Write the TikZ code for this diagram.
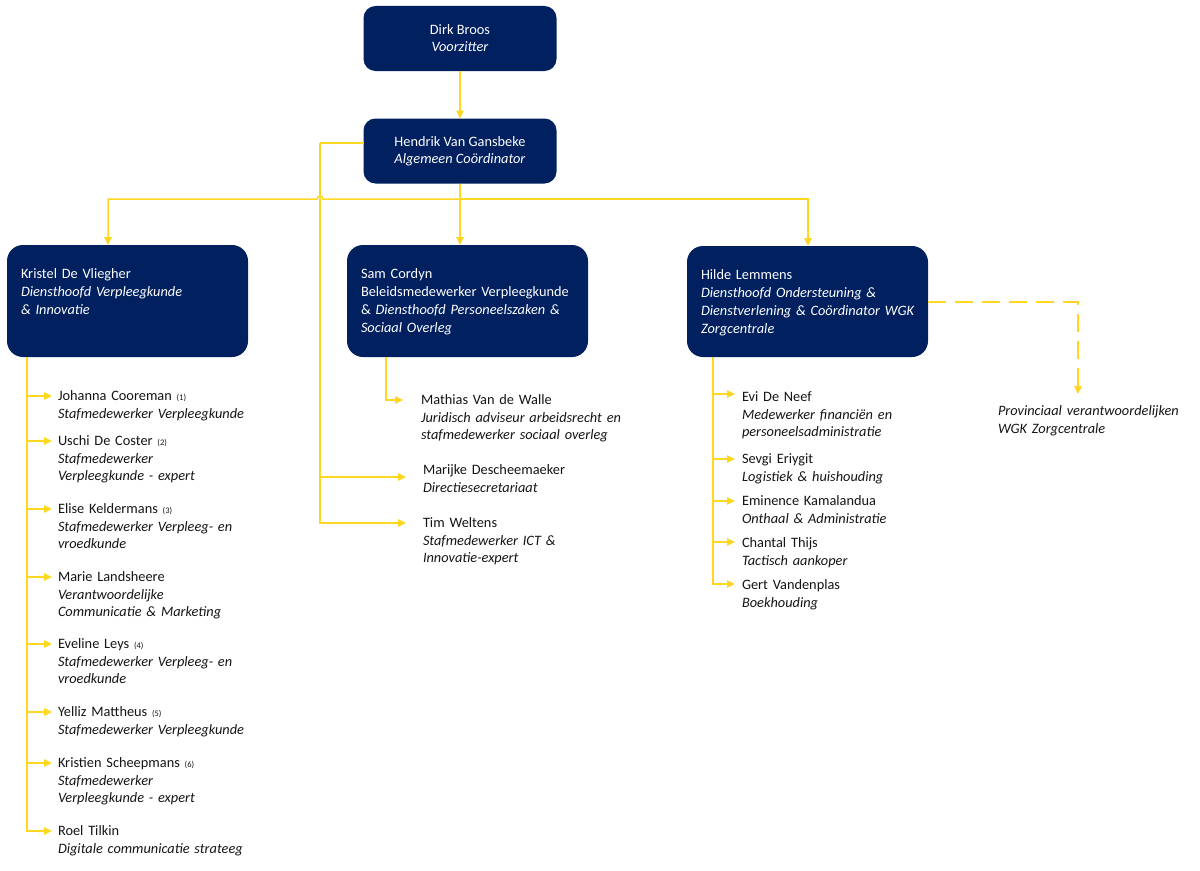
\documentclass[tikz,border=0pt]{standalone}
\usepackage{fontspec}
\setmainfont{Carlito}
\usetikzlibrary{positioning}
\usetikzlibrary{arrows.meta}
\definecolor{navy}{RGB}{0,32,96}
\definecolor{geel}{RGB}{255,214,32}
\definecolor{tekst}{RGB}{20,20,20}
\newcommand{\nr}[1]{{\fontsize{8.5}{9}\selectfont(#1)}}

\begin{document}
\begin{tikzpicture}[x=1bp,y=1bp,outer sep=0pt,
    baas/.style={fill=navy,rounded corners=12bp,text=white,minimum width=193bp,minimum height=65bp,align=center,font=\fontsize{14.4}{17}\selectfont},
    dienst/.style={fill=navy,rounded corners=16bp,text=white,anchor=north west,text width=213bp,align=left,inner xsep=14bp,inner ysep=0pt,text height=33.6bp,text depth=78.4bp,font=\fontsize{14.4}{18}\selectfont},
    staf/.style={anchor=base west,text width=240bp,align=left,inner sep=0pt,text=tekst,font=\fontsize{14.4}{17.8}\selectfont},
    tak/.style={draw=geel,line width=1.5bp,-{Triangle[length=8bp,width=7.5bp]}},
    lijn/.style={draw=geel,line width=1.5bp},
    haak/.style={to path={|- (\tikztotarget)}},
    stippel/.style={tak,dash pattern=on 18bp off 9bp}]
  \useasboundingbox (0,0) rectangle (1200,-871);

  % top
  \node[baas] (dirk) at (460,-38.5) {Dirk Broos\\\textit{Voorzitter}};
  \node[baas] (hendrik) at (460,-151) {Hendrik Van Gansbeke\\\textit{Algemeen Coördinator}};

  % diensten
  \node[dienst] (kristel) at (7,-245) {Kristel De Vliegher\\\textit{Diensthoofd Verpleegkunde}\\\textit{\& Innovatie}};
  \node[dienst] (sam) at (347,-245) {Sam Cordyn\\Beleidsmedewerker Verpleegkunde\\\& \textit{Diensthoofd Personeelszaken \&}\\\textit{Sociaal Overleg}};
  \node[dienst,text depth=77.4bp] (hilde) at (687,-246) {Hilde Lemmens\\\textit{Diensthoofd Ondersteuning \&}\\\mbox{\textit{Dienstverlening \& Coördinator WGK}}\\\textit{Zorgcentrale}};

  \coordinate (splits) at ([yshift=-15.5bp]hendrik.south);
  \coordinate (hlinks) at ([xshift=-43.5bp,yshift=8bp]hendrik.west);
  \coordinate (kv) at ([xshift=20bp]kristel.south west);
  \coordinate (sv) at ([xshift=39bp]sam.south west);
  \coordinate (hv) at ([xshift=26bp]hilde.south west);

  % medewerkers
  \node[staf] (johanna) at (58,-400.5) {Johanna Cooreman \nr{1}\\\textit{Stafmedewerker Verpleegkunde}};
  \node[staf] (uschi) at (58,-445.5) {Uschi De Coster \nr{2}\\\textit{Stafmedewerker}\\\textit{Verpleegkunde - expert}};
  \node[staf] (elise) at (58,-513.5) {Elise Keldermans \nr{3}\\\textit{Stafmedewerker Verpleeg- en}\\\textit{vroedkunde}};
  \node[staf] (marie) at (58,-581.5) {Marie Landsheere\\\textit{Verantwoordelijke}\\\textit{Communicatie \& Marketing}};
  \node[staf] (eveline) at (58,-648.5) {Eveline Leys \nr{4}\\\textit{Stafmedewerker Verpleeg- en}\\\textit{vroedkunde}};
  \node[staf] (yelliz) at (58,-716.5) {Yelliz Mattheus \nr{5}\\\textit{Stafmedewerker Verpleegkunde}};
  \node[staf] (kristien) at (58,-767.5) {Kristien Scheepmans \nr{6}\\\textit{Stafmedewerker}\\\textit{Verpleegkunde - expert}};
  \node[staf] (roel) at (58,-835.5) {Roel Tilkin\\\textit{Digitale communicatie strateeg}};

  \node[staf] (mathias) at (421,-404.5) {Mathias Van de Walle\\\textit{Juridisch adviseur arbeidsrecht en}\\\textit{stafmedewerker sociaal overleg}};
  \node[staf] (marijke) at (423,-474.5) {Marijke Descheemaeker\\\textit{Directiesecretariaat}};
  \node[staf] (tim) at (423,-527.5) {Tim Weltens\\\textit{Stafmedewerker ICT \&}\\\textit{Innovatie-expert}};

  \node[staf] (evi) at (742,-401.5) {Evi De Neef\\\textit{Medewerker financiën en}\\\textit{personeelsadministratie}};
  \node[staf] (sevgi) at (742,-463.5) {Sevgi Eriygit\\\textit{Logistiek \& huishouding}};
  \node[staf] (eminence) at (742,-505.5) {Eminence Kamalandua\\\textit{Onthaal \& Administratie}};
  \node[staf] (chantal) at (742,-547.5) {Chantal Thijs\\\textit{Tactisch aankoper}};
  \node[staf] (gert) at (742,-589.5) {Gert Vandenplas\\\textit{Boekhouding}};

  \node[staf] (prov) at (998,-415.5) {\textit{Provinciaal verantwoordelijken}\\\textit{WGK Zorgcentrale}};

  % lijnen
  \draw[tak] (dirk) -- (hendrik);
  \draw[tak] (hendrik.south) -- (hendrik.south |- sam.north);
  \draw[tak] (splits) -- ([xshift=3bp]hlinks |- splits) arc[start angle=0,end angle=180,radius=3bp] -| ([xshift=101bp]kristel.north west);
  \draw[tak] (splits) -| ([xshift=121bp]hilde.north west);
  \draw[lijn] ([yshift=8bp]hendrik.west) -- (hlinks);
  \draw[stippel] ([yshift=-0.5bp]hilde.east) -| ([shift={(80bp,21.5bp)}]prov.base west);

  \path
    (kv) edge[tak,haak] ([shift={(-6bp,4.5bp)}]johanna.base west)
    (kv) edge[tak,haak] ([shift={(-6bp,4.5bp)}]uschi.base west)
    (kv) edge[tak,haak] ([shift={(-6bp,4.5bp)}]elise.base west)
    (kv) edge[tak,haak] ([shift={(-6bp,4.5bp)}]marie.base west)
    (kv) edge[tak,haak] ([shift={(-6bp,4.5bp)}]eveline.base west)
    (kv) edge[tak,haak] ([shift={(-6bp,4.5bp)}]yelliz.base west)
    (kv) edge[tak,haak] ([shift={(-6bp,4.5bp)}]kristien.base west)
    (kv) edge[tak,haak] ([shift={(-6bp,4.5bp)}]roel.base west);

  \path
    (sv) edge[tak,haak] ([shift={(-18bp,4.5bp)}]mathias.base west)
    (hlinks) edge[tak,haak] ([shift={(-17bp,-2.5bp)}]marijke.base west)
    (hlinks) edge[tak,haak] ([shift={(-17bp,4.5bp)}]tim.base west);

  \path
    (hv) edge[tak,haak] ([shift={(-7bp,7.5bp)}]evi.base west)
    (hv) edge[tak,haak] ([shift={(-7bp,4.5bp)}]sevgi.base west)
    (hv) edge[tak,haak] ([shift={(-7bp,4.5bp)}]eminence.base west)
    (hv) edge[tak,haak] ([shift={(-7bp,5.5bp)}]chantal.base west)
    (hv) edge[tak,haak] ([shift={(-7bp,5.5bp)}]gert.base west);
\end{tikzpicture}
\end{document}
